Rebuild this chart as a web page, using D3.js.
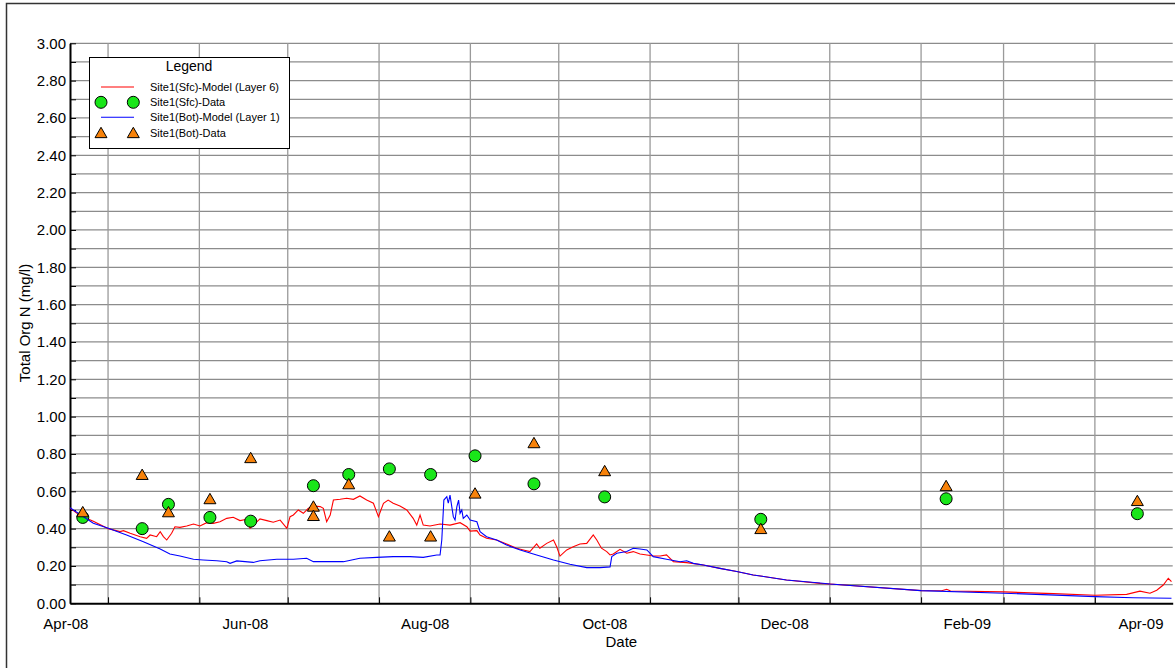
<!DOCTYPE html>
<html>
<head>
<meta charset="utf-8">
<script src="https://cdn.jsdelivr.net/npm/d3@7"></script>
<style>
  body { margin: 0; background: #fff; }
  text { font-family: "Liberation Sans", Arial, sans-serif; fill: #000; }
</style>
</head>
<body>
<script>
var svgWidth = 1175;
var svgHeight = 668;

var parseTime = d3.timeParse("%Y-%m-%d %H");

// sample dates of the field data
var sampleDates = ["2008-04-22 10", "2008-05-12 14", "2008-05-21 12", "2008-06-04 14", "2008-06-18 10",
    "2008-07-09 17", "2008-07-21 17", "2008-08-04 12", "2008-08-18 12", "2008-09-02 14",
    "2008-09-22 14", "2008-10-16 14", "2008-12-08 14", "2009-02-09 12", "2009-04-15 10"];
var sfcData = [0.46, 0.40, 0.53, 0.46, 0.44, 0.63, 0.69, 0.72, 0.69, 0.79, 0.64, 0.57, 0.45, 0.56, 0.48];
var botData = [0.49, 0.69, 0.49, 0.56, 0.78, 0.52, 0.64, 0.36, 0.36, 0.59, 0.86, 0.71, 0.40, 0.63, 0.55];
// second bottom sample on 9 Jul
var botExtra = [["2008-07-09 17", 0.47]];

var sfcModel = [
    ["2008-04-18 02", 0.51], ["2008-04-21 12", 0.47], ["2008-04-26 00", 0.44], ["2008-05-01 02", 0.40],
    ["2008-05-05 02", 0.384], ["2008-05-06 05", 0.389], ["2008-05-08 12", 0.375], ["2008-05-11 22", 0.357],
    ["2008-05-14 02", 0.348], ["2008-05-15 07", 0.366], ["2008-05-17 12", 0.357], ["2008-05-18 17", 0.384],
    ["2008-05-19 19", 0.357], ["2008-05-20 22", 0.339], ["2008-05-22 14", 0.375], ["2008-05-23 17", 0.41],
    ["2008-05-25 10", 0.407], ["2008-05-27 17", 0.414], ["2008-05-30 00", 0.425], ["2008-06-01 05", 0.414],
    ["2008-06-03 12", 0.432], ["2008-06-05 17", 0.428], ["2008-06-08 00", 0.437], ["2008-06-10 07", 0.455],
    ["2008-06-12 12", 0.461], ["2008-06-14 19", 0.443], ["2008-06-17 02", 0.45], ["2008-06-18 05", 0.402],
    ["2008-06-19 07", 0.419], ["2008-06-21 14", 0.452], ["2008-06-23 22", 0.443], ["2008-06-26 02", 0.434],
    ["2008-06-28 10", 0.446], ["2008-06-30 17", 0.402], ["2008-07-01 19", 0.464], ["2008-07-02 22", 0.473],
    ["2008-07-04 14", 0.50], ["2008-07-06 07", 0.482], ["2008-07-08 00", 0.509], ["2008-07-09 17", 0.521],
    ["2008-07-12 00", 0.518], ["2008-07-13 02", 0.509], ["2008-07-14 05", 0.437], ["2008-07-15 10", 0.473],
    ["2008-07-16 12", 0.553], ["2008-07-18 19", 0.557], ["2008-07-21 00", 0.563], ["2008-07-23 07", 0.557],
    ["2008-07-25 12", 0.575], ["2008-07-27 19", 0.553], ["2008-07-30 02", 0.536], ["2008-07-31 19", 0.464],
    ["2008-08-02 12", 0.536], ["2008-08-04 02", 0.553], ["2008-08-05 19", 0.536], ["2008-08-08 02", 0.521],
    ["2008-08-10 10", 0.50], ["2008-08-12 14", 0.455], ["2008-08-13 19", 0.419], ["2008-08-14 22", 0.473],
    ["2008-08-16 00", 0.419], ["2008-08-18 07", 0.414], ["2008-08-21 17", 0.425], ["2008-08-25 02", 0.419],
    ["2008-08-28 12", 0.432], ["2008-08-30 19", 0.41], ["2008-08-31 22", 0.387], ["2008-09-03 05", 0.389],
    ["2008-09-04 07", 0.366], ["2008-09-06 12", 0.348], ["2008-09-09 22", 0.339], ["2008-09-13 07", 0.318],
    ["2008-09-16 17", 0.295], ["2008-09-19 00", 0.286], ["2008-09-21 05", 0.277], ["2008-09-23 12", 0.318],
    ["2008-09-24 14", 0.295], ["2008-09-26 22", 0.321], ["2008-09-29 05", 0.339], ["2008-09-30 07", 0.303],
    ["2008-10-01 10", 0.253], ["2008-10-03 17", 0.286], ["2008-10-05 22", 0.303], ["2008-10-08 05", 0.318],
    ["2008-10-10 12", 0.321], ["2008-10-12 17", 0.366], ["2008-10-13 22", 0.339], ["2008-10-15 12", 0.295],
    ["2008-10-17 07", 0.277], ["2008-10-18 10", 0.259], ["2008-10-19 12", 0.264], ["2008-10-21 19", 0.289],
    ["2008-10-24 02", 0.268], ["2008-10-26 07", 0.277], ["2008-10-28 14", 0.264], ["2008-10-30 22", 0.259],
    ["2008-11-02 02", 0.253], ["2008-11-04 10", 0.253], ["2008-11-06 14", 0.259], ["2008-11-08 22", 0.223],
    ["2008-11-13 10", 0.218], ["2008-11-19 02", 0.205], ["2008-11-24 17", 0.187], ["2008-11-30 10", 0.17],
    ["2008-12-06 00", 0.152], ["2008-12-17 07", 0.125], ["2008-12-28 17", 0.107], ["2009-01-01 02", 0.103],
    ["2009-02-01 00", 0.068], ["2009-02-08 00", 0.067], ["2009-02-09 17", 0.075], ["2009-02-11 00", 0.066],
    ["2009-03-01 02", 0.061], ["2009-03-17 22", 0.052], ["2009-04-01 02", 0.043], ["2009-04-11 19", 0.048],
    ["2009-04-16 07", 0.065], ["2009-04-19 17", 0.054], ["2009-04-22 00", 0.07], ["2009-04-24 05", 0.098],
    ["2009-04-25 22", 0.134], ["2009-04-27 00", 0.116]
];

var botModel = [
    ["2008-04-18 02", 0.512], ["2008-04-26 00", 0.429], ["2008-05-01 02", 0.402], ["2008-05-07 07", 0.366],
    ["2008-05-13 00", 0.33], ["2008-05-18 17", 0.291], ["2008-05-22 00", 0.264], ["2008-05-25 10", 0.253],
    ["2008-05-30 00", 0.236], ["2008-06-02 07", 0.232], ["2008-06-06 22", 0.228], ["2008-06-10 07", 0.223],
    ["2008-06-11 10", 0.214], ["2008-06-13 17", 0.227], ["2008-06-19 07", 0.219], ["2008-06-21 14", 0.228],
    ["2008-06-27 07", 0.236], ["2008-07-02 22", 0.236], ["2008-07-07 10", 0.241], ["2008-07-09 17", 0.223],
    ["2008-07-14 05", 0.223], ["2008-07-19 22", 0.223], ["2008-07-25 12", 0.241], ["2008-07-31 05", 0.246],
    ["2008-08-05 19", 0.25], ["2008-08-11 12", 0.25], ["2008-08-16 00", 0.246], ["2008-08-20 14", 0.259],
    ["2008-08-21 17", 0.259], ["2008-08-22 07", 0.339], ["2008-08-23 00", 0.553], ["2008-08-24 00", 0.571],
    ["2008-08-24 12", 0.536], ["2008-08-25 02", 0.58], ["2008-08-26 05", 0.464], ["2008-08-26 19", 0.446],
    ["2008-08-27 10", 0.518], ["2008-08-28 00", 0.553], ["2008-08-28 12", 0.482], ["2008-08-29 02", 0.50],
    ["2008-08-29 14", 0.455], ["2008-08-30 19", 0.473], ["2008-08-31 22", 0.446], ["2008-09-03 05", 0.437],
    ["2008-09-04 07", 0.384], ["2008-09-06 12", 0.357], ["2008-09-09 22", 0.339], ["2008-09-13 07", 0.312],
    ["2008-09-17 22", 0.286], ["2008-09-23 12", 0.259], ["2008-09-29 05", 0.232], ["2008-10-04 19", 0.209],
    ["2008-10-10 12", 0.191], ["2008-10-15 00", 0.191], ["2008-10-18 10", 0.195], ["2008-10-19 00", 0.25],
    ["2008-10-20 17", 0.268], ["2008-10-24 02", 0.277], ["2008-10-26 07", 0.295], ["2008-10-28 14", 0.291],
    ["2008-10-30 22", 0.286], ["2008-11-02 02", 0.25], ["2008-11-06 14", 0.236], ["2008-11-11 05", 0.223],
    ["2008-11-13 10", 0.228], ["2008-11-15 17", 0.214], ["2008-11-19 02", 0.205], ["2008-11-24 17", 0.187],
    ["2008-11-30 10", 0.17], ["2008-12-06 00", 0.152], ["2008-12-17 07", 0.125], ["2008-12-28 17", 0.109],
    ["2009-01-01 02", 0.103], ["2009-02-01 00", 0.068], ["2009-03-01 02", 0.054], ["2009-04-01 02", 0.036],
    ["2009-04-14 00", 0.03], ["2009-04-27 00", 0.027]
];

var xLabels = ["Apr-08", "Jun-08", "Aug-08", "Oct-08", "Dec-08", "Feb-09", "Apr-09"];
var xLabelDates = ["2008-04-16 12", "2008-06-16 12", "2008-08-16 12", "2008-10-16 12",
    "2008-12-16 12", "2009-02-16 12", "2009-04-16 12"];

var legendItems = ["Site1(Sfc)-Model (Layer 6)", "Site1(Sfc)-Data", "Site1(Bot)-Model (Layer 1)", "Site1(Bot)-Data"];

var plotLeft = 70, plotRight = 1172.7, plotTop = 43.3, plotBottom = 603.3;

var x = d3.scaleTime()
    .domain([parseTime("2008-04-18 02"), parseTime("2009-04-27 10")])
    .range([plotLeft, plotRight]);

var y = d3.scaleLinear()
    .domain([0, 3])
    .range([plotBottom, plotTop]);

var svg = d3.select("body")
    .append("svg")
    .attr("width", svgWidth)
    .attr("height", svgHeight);

// outer frame
svg.append("rect")
    .attr("x", 6.5).attr("y", 3.5)
    .attr("width", svgWidth + 20).attr("height", svgHeight + 20)
    .attr("fill", "none")
    .attr("stroke", "#333")
    .attr("stroke-width", 1.5);

var yTicks = d3.range(0, 31).map(i => i / 10);
var monthTicks = d3.timeMonth.range(d3.timeMonth.ceil(x.domain()[0]), x.domain()[1]);

svg.append("g")
    .selectAll("line")
    .data(yTicks.filter(d => d > 0))
    .enter().append("line")
    .attr("x1", plotLeft).attr("x2", plotRight)
    .attr("y1", d => y(d)).attr("y2", d => y(d))
    .attr("stroke", "#8c8c8c")
    .attr("stroke-width", 1.2);

svg.append("g")
    .selectAll("line")
    .data(monthTicks)
    .enter().append("line")
    .attr("x1", d => x(d)).attr("x2", d => x(d))
    .attr("y1", plotTop).attr("y2", plotBottom)
    .attr("stroke", "#9a9a9a")
    .attr("stroke-width", 1.3);

var xAxis = svg.append("g")
    .attr("transform", "translate(0," + plotBottom + ")")
    .call(d3.axisBottom(x).tickValues(monthTicks).tickSize(-6).tickSizeOuter(0).tickFormat(""));
xAxis.select(".domain").attr("stroke", "#000").attr("stroke-width", 2);
xAxis.selectAll(".tick line").attr("stroke", "#000");

var xLabelAxis = svg.append("g")
    .attr("transform", "translate(0," + plotBottom + ")")
    .call(d3.axisBottom(x)
        .tickValues(xLabelDates.map(parseTime))
        .tickSize(0)
        .tickFormat((d, i) => xLabels[i]));
xLabelAxis.select(".domain").remove();
xLabelAxis.selectAll("text")
    .attr("y", 26).attr("dy", 0)
    .style("font-size", "15px");

var yAxis = svg.append("g")
    .attr("transform", "translate(" + plotLeft + ",0)")
    .call(d3.axisLeft(y)
        .tickValues(yTicks)
        .tickSize(-6)
        .tickSizeOuter(0)
        .tickPadding(4)
        .tickFormat(d => Math.round(d * 10) % 2 === 0 ? d.toFixed(2) : ""));
yAxis.select(".domain").attr("stroke", "#000").attr("stroke-width", 2);
yAxis.selectAll(".tick line").attr("stroke", "#000");
yAxis.selectAll("text").style("font-size", "15px");

svg.append("text")
    .attr("x", (plotLeft + plotRight) / 2)
    .attr("y", 647)
    .attr("text-anchor", "middle")
    .style("font-size", "15px")
    .text("Date");

svg.append("text")
    .attr("transform", "translate(30,323) rotate(-90)")
    .attr("text-anchor", "middle")
    .style("font-size", "15px")
    .text("Total Org N (mg/l)");

var line = d3.line()
    .x(d => x(parseTime(d[0])))
    .y(d => y(d[1]));

var triangle = d3.symbol().type(d3.symbolTriangle).size(62);
var green = "#19e619";
var orange = "#f7820a";

svg.append("path")
    .datum(sfcModel)
    .attr("d", line)
    .attr("fill", "none")
    .attr("stroke", "#ff0000")
    .attr("stroke-width", 1.1);

svg.append("g")
    .selectAll("circle")
    .data(sfcData)
    .enter().append("circle")
    .attr("cx", (d, i) => x(parseTime(sampleDates[i])))
    .attr("cy", d => y(d))
    .attr("r", 6)
    .attr("fill", green)
    .attr("stroke", "#000")
    .attr("stroke-width", 1);

svg.append("path")
    .datum(botModel)
    .attr("d", line)
    .attr("fill", "none")
    .attr("stroke", "#0000ff")
    .attr("stroke-width", 1.1);

var botPoints = sampleDates.map((d, i) => [d, botData[i]]).concat(botExtra);

svg.append("g")
    .selectAll("path")
    .data(botPoints)
    .enter().append("path")
    .attr("d", triangle)
    .attr("transform", d => "translate(" + x(parseTime(d[0])) + "," + (y(d[1]) + 1.5) + ")")
    .attr("fill", orange)
    .attr("stroke", "#000")
    .attr("stroke-width", 1);

// legend
var legend = svg.append("g");

legend.append("rect")
    .attr("x", 89.5).attr("y", 57.5)
    .attr("width", 200).attr("height", 91)
    .attr("fill", "#fff")
    .attr("stroke", "#000")
    .attr("stroke-width", 1);

legend.append("text")
    .attr("x", 189)
    .attr("y", 71)
    .attr("text-anchor", "middle")
    .style("font-size", "14px")
    .text("Legend");

var rowY = [87, 102.3, 117.3, 132.7];

legend.selectAll(".legendText")
    .data(legendItems).enter()
    .append("text")
    .attr("x", 150)
    .attr("y", (d, i) => rowY[i] + 4)
    .style("font-size", "11px")
    .text(d => d);

legend.append("line")
    .attr("x1", 101).attr("x2", 134)
    .attr("y1", rowY[0]).attr("y2", rowY[0])
    .attr("stroke", "#ff0000").attr("stroke-width", 1.1);

legend.append("line")
    .attr("x1", 101).attr("x2", 134)
    .attr("y1", rowY[2]).attr("y2", rowY[2])
    .attr("stroke", "#0000ff").attr("stroke-width", 1.1);

legend.selectAll(".legendCircle")
    .data([101, 133.3]).enter()
    .append("circle")
    .attr("cx", d => d)
    .attr("cy", rowY[1])
    .attr("r", 6)
    .attr("fill", green)
    .attr("stroke", "#000");

legend.selectAll(".legendTriangle")
    .data([101, 133.3]).enter()
    .append("path")
    .attr("d", triangle)
    .attr("transform", d => "translate(" + d + "," + (rowY[3] + 1.5) + ")")
    .attr("fill", orange)
    .attr("stroke", "#000");
</script>
</body>
</html>
